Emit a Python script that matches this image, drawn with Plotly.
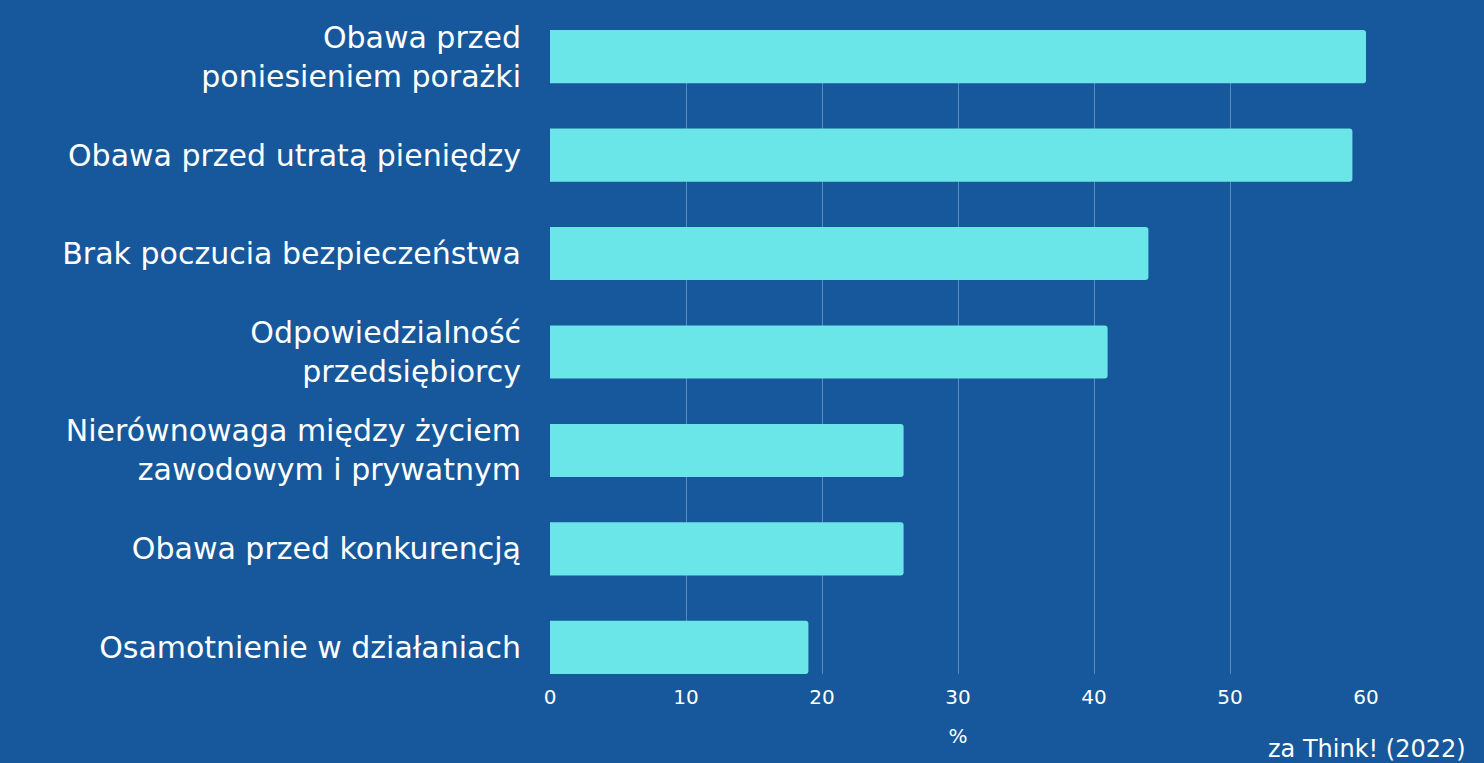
import plotly.graph_objects as go

# data
categories = [
    'Obawa przed<br>poniesieniem porażki',
    'Obawa przed utratą pieniędzy',
    'Brak poczucia bezpieczeństwa',
    'Odpowiedzialność<br>przedsiębiorcy',
    'Nierównowaga między życiem<br>zawodowym i prywatnym',
    'Obawa przed konkurencją',
    'Osamotnienie w działaniach',
]
values = [60, 59, 44, 41, 26, 26, 19]
x_ticks = [0, 10, 20, 30, 40, 50, 60]
source_note = 'za Think! (2022)'

BG = '#16589B'
BAR = '#6AE6E8'
FONT = 'DejaVu Sans, Open Sans, sans-serif'

fig = go.Figure(
    go.Bar(
        x=values,
        y=categories,
        orientation='h',
        width=0.54,
        marker=dict(color=BAR, line=dict(width=0), cornerradius=3),
        hoverinfo='skip',
    )
)

fig.update_layout(
    width=1484,
    height=763,
    paper_bgcolor=BG,
    plot_bgcolor=BG,
    showlegend=False,
    margin=dict(l=550, r=118, t=30, b=89),
    font=dict(family=FONT, color='white'),
    xaxis=dict(
        range=[0, 60],
        tickvals=x_ticks,
        showgrid=True,
        gridcolor='rgba(255,255,255,0.3)',
        gridwidth=1,
        zeroline=False,
        showline=False,
        tickfont=dict(size=20),
        ticklabelstandoff=9,
        title=dict(text='%', font=dict(size=20), standoff=20),
        fixedrange=True,
    ),
    yaxis=dict(
        range=[6.27, -0.27],
        showgrid=False,
        zeroline=False,
        showline=False,
        tickfont=dict(size=30),
        ticklabelstandoff=28,
        fixedrange=True,
    ),
)

fig.add_annotation(
    text=source_note,
    xref='paper', yref='paper',
    x=(1266 - 550) / 816, y=-0.092,
    xanchor='left', yanchor='top',
    showarrow=False,
    font=dict(size=24, color='white'),
)

fig.write_html(
    'out.html',
    config={'displayModeBar': False},
    post_script="document.body.style.margin='0';",
)
